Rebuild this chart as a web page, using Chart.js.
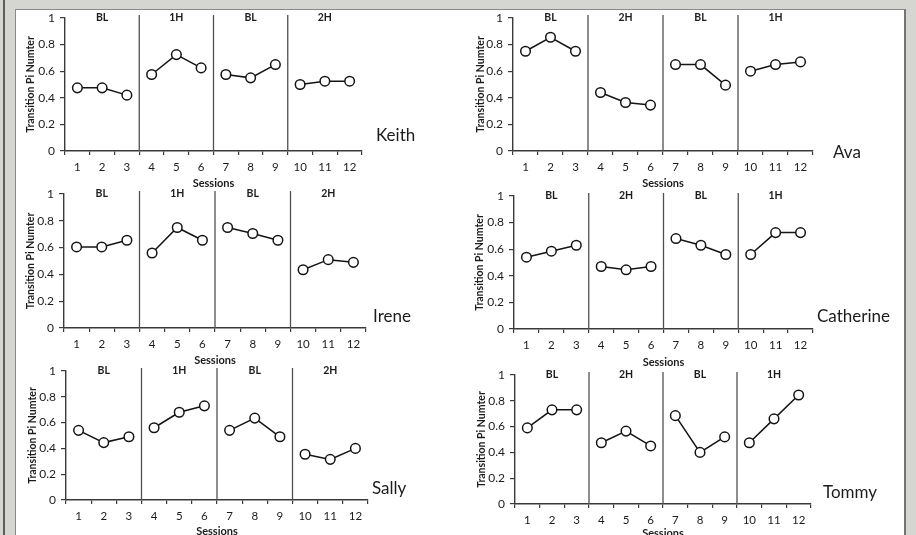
<!DOCTYPE html>
<html>
<head>
<meta charset="utf-8">
<script src="https://cdn.jsdelivr.net/npm/chart.js@4"></script>
<style>
  html, body { margin: 0; padding: 0; }
  body { width: 916px; height: 535px; background: #d5d5d2; position: relative; overflow: hidden; }
  .edge { position: absolute; left: 3px; top: 0; width: 2px; height: 535px; background: #5c5c5c; }
  .sheet { position: absolute; left: 15px; top: 9px; width: 888px; height: 540px; background: #fff;
           border-top: 1px solid #8a8a8a; border-left: 1px solid #8a8a8a; border-right: 2px solid #747474; }
  canvas { position: absolute; }
</style>
</head>
<body>
<div class="edge"></div>
<div class="sheet"></div>
<canvas id="keith"></canvas>
<canvas id="ava"></canvas>
<canvas id="irene"></canvas>
<canvas id="catherine"></canvas>
<canvas id="sally"></canvas>
<canvas id="tommy"></canvas>
<script>
// sessions on the x axis, phase order per participant
const sessions = ['1', '2', '3', '4', '5', '6', '7', '8', '9', '10', '11', '12'];
const phasesA = ['BL', '1H', 'BL', '2H'];
const phasesB = ['BL', '2H', 'BL', '1H'];

// transition PI values, one per session
const keith     = [0.475, 0.475, 0.42, 0.575, 0.725, 0.625, 0.575, 0.55, 0.65, 0.5, 0.525, 0.525];
const ava       = [0.75, 0.855, 0.75, 0.44, 0.365, 0.345, 0.65, 0.65, 0.495, 0.6, 0.65, 0.67];
const irene     = [0.605, 0.605, 0.655, 0.56, 0.75, 0.655, 0.75, 0.705, 0.655, 0.435, 0.51, 0.49];
const catherine = [0.54, 0.585, 0.63, 0.47, 0.445, 0.47, 0.68, 0.63, 0.56, 0.56, 0.725, 0.725];
const sally     = [0.54, 0.445, 0.49, 0.56, 0.68, 0.73, 0.54, 0.635, 0.49, 0.355, 0.315, 0.4];
const tommy     = [0.59, 0.73, 0.73, 0.475, 0.565, 0.45, 0.685, 0.4, 0.52, 0.475, 0.66, 0.845];

const FONT = 'Lato, "Open Sans", sans-serif';
const INK = '#1c1c1c';
const AXIS = '#3a3a3a';

// where each plot area sits on the page
const panels = [
  { id: 'keith', name: 'Keith', values: keith, phases: phasesA,
    left: 65, right: 362, top: 18, bottom: 151, titleX: 30, sessY: 183, nameDx: 14, nameDy: -15 },
  { id: 'ava', name: 'Ava', values: ava, phases: phasesB,
    left: 513, right: 813, top: 18, bottom: 151, titleX: 480, sessY: 183, nameDx: 20, nameDy: 2 },
  { id: 'irene', name: 'Irene', values: irene, phases: phasesA,
    left: 64, right: 366, top: 194, bottom: 328, titleX: 30, sessY: 360, nameDx: 7, nameDy: -11 },
  { id: 'catherine', name: 'Catherine', values: catherine, phases: phasesB,
    left: 514, right: 813, top: 196, bottom: 329, titleX: 479, sessY: 362, nameDx: 4, nameDy: -12 },
  { id: 'sally', name: 'Sally', values: sally, phases: phasesA,
    left: 66, right: 368, top: 371, bottom: 500, titleX: 32, sessY: 531, nameDx: 4, nameDy: -11 },
  { id: 'tommy', name: 'Tommy', values: tommy, phases: phasesB,
    left: 515, right: 811, top: 375, bottom: 504, titleX: 481, sessY: 533, nameDx: 12, nameDy: -11 }
];

// phase dividers, phase headings and the participant name
function phaseMarks(p) {
  return {
    id: 'phaseMarks',
    afterDatasetsDraw(chart) {
      const { ctx, chartArea: area, scales: { x } } = chart;
      const per = p.values.length / p.phases.length;
      ctx.save();
      ctx.strokeStyle = '#505050';
      ctx.lineWidth = 1.3;
      for (let k = per; k < p.values.length; k += per) {
        const px = (x.getPixelForValue(k - 1) + x.getPixelForValue(k)) / 2;
        ctx.beginPath();
        ctx.moveTo(px, area.top - 3);
        ctx.lineTo(px, area.bottom);
        ctx.stroke();
      }
      ctx.fillStyle = INK;
      ctx.textAlign = 'center';
      ctx.textBaseline = 'middle';
      ctx.font = 'bold 10.5px ' + FONT;
      p.phases.forEach((ph, i) => {
        const px = (x.getPixelForValue(i * per) + x.getPixelForValue(i * per + per - 1)) / 2;
        ctx.fillText(ph, px, area.top);
      });
      ctx.textAlign = 'left';
      ctx.font = '17px ' + FONT;
      ctx.fillText(p.name, area.right + p.nameDx, area.bottom + p.nameDy);
      ctx.restore();
    }
  };
}

panels.forEach(p => {
  const canvas = document.getElementById(p.id);
  const x0 = Math.round(p.titleX - 6);
  const y0 = p.top - 14;
  const x1 = p.right + 95;
  const y1 = Math.round(p.sessY + 7);
  canvas.width = x1 - x0;
  canvas.height = y1 - y0;
  canvas.style.left = x0 + 'px';
  canvas.style.top = y0 + 'px';

  const per = p.values.length / p.phases.length;

  new Chart(canvas, {
    type: 'line',
    data: {
      labels: sessions,
      datasets: [{
        data: p.values,
        borderColor: '#141414',
        borderWidth: 1.5,
        pointRadius: 4.8,
        pointBackgroundColor: '#ffffff',
        pointBorderColor: '#141414',
        pointBorderWidth: 1.5,
        // no line across a phase change
        segment: { borderColor: c => (c.p1DataIndex % per === 0 ? 'rgba(0,0,0,0)' : undefined) }
      }]
    },
    options: {
      responsive: false,
      animation: false,
      layout: { padding: { top: p.top - y0, right: x1 - p.right, left: 0, bottom: 0 } },
      plugins: { legend: { display: false }, tooltip: { enabled: false } },
      scales: {
        x: {
          type: 'category',
          offset: true,
          afterFit: s => { s.height = y1 - p.bottom; },
          grid: { offset: true, drawOnChartArea: false, tickLength: 4, color: AXIS, lineWidth: 1.2 },
          border: { color: AXIS, width: 1.4 },
          ticks: { color: INK, font: { family: FONT, size: 11.5 }, padding: 5, maxRotation: 0, autoSkip: false },
          title: { display: true, text: 'Sessions', color: INK, padding: 0,
                   font: { family: FONT, size: 11, weight: 'bold', lineHeight: 1.2 } }
        },
        y: {
          min: 0,
          max: 1,
          afterFit: s => { s.width = p.left - x0; },
          grid: { drawOnChartArea: false, tickLength: 5, color: AXIS, lineWidth: 1.2 },
          border: { color: AXIS, width: 1.4 },
          ticks: { stepSize: 0.2, color: INK, font: { family: FONT, size: 12 }, padding: 5,
                   callback: v => String(Number(v.toFixed(1))) },
          title: { display: true, text: 'Transition Pi Numter', color: INK, padding: 0,
                   font: { family: FONT, size: 10.5, weight: 'bold', lineHeight: 1.2 } }
        }
      }
    },
    plugins: [phaseMarks(p)]
  });
});
</script>
</body>
</html>
